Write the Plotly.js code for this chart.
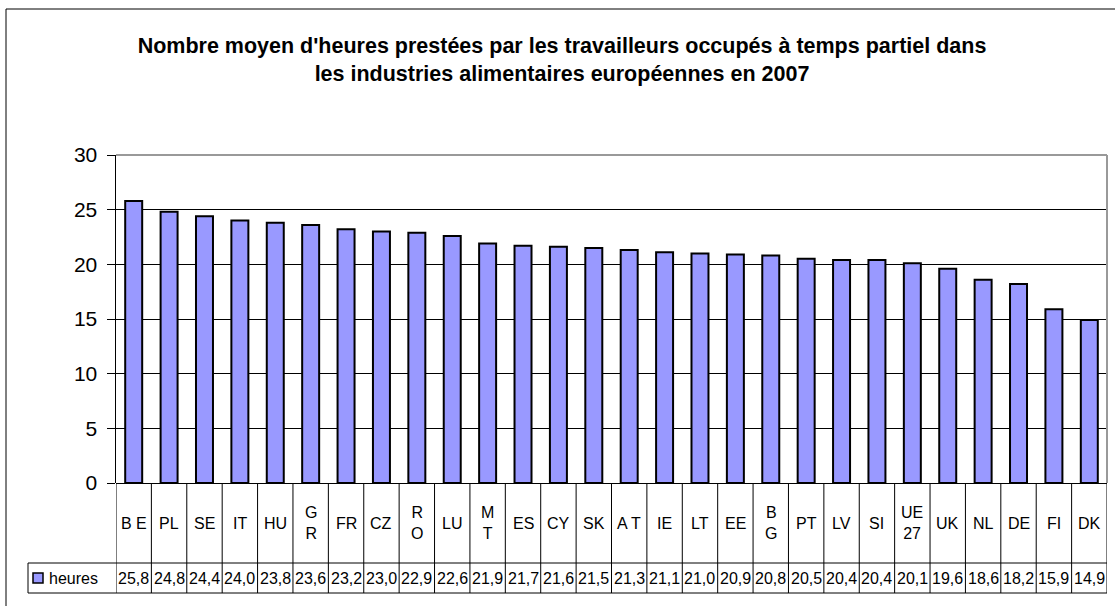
<!DOCTYPE html>
<html>
<head>
<meta charset="utf-8">
<script src="https://cdn.plot.ly/plotly-3.0.1.min.js"></script>
<style>
  html, body { margin: 0; padding: 0; background: #fff; }
  #chart { width: 1115px; height: 606px; }
</style>
</head>
<body>
<div id="chart"></div>
<script>
// ---- data ----
const categories = ['BE','PL','SE','IT','HU','GR','FR','CZ','RO','LU','MT','ES','CY','SK','AT','IE','LT','EE','BG','PT','LV','SI','UE27','UK','NL','DE','FI','DK'];
const tickLabels = ['B E','PL','SE','IT','HU','G<br>R','FR','CZ','R<br>O','LU','M<br>T','ES','CY','SK','A T','IE','LT','EE','B<br>G','PT','LV','SI','UE<br>27','UK','NL','DE','FI','DK'];
const heures = [25.8,24.8,24.4,24.0,23.8,23.6,23.2,23.0,22.9,22.6,21.9,21.7,21.6,21.5,21.3,21.1,21.0,20.9,20.8,20.5,20.4,20.4,20.1,19.6,18.6,18.2,15.9,14.9];
const seriesName = 'heures';
const titleText = "Nombre moyen d'heures prestées par les travailleurs occupés à temps partiel dans<br>les industries alimentaires européennes en 2007";

// ---- layout geometry (pixels) ----
const W = 1115, H = 606;
const L = 116, R = 1107, T = 155, B = 483;
const row1Bottom = 563, row2Bottom = 593, legendLeft = 28;
const pw = R - L, ph = B - T;
const py = p => (B - p) / ph;        // pixel y -> paper y
const px = p => (p - L) / pw;        // pixel x -> paper x

const FONT = 'Liberation Sans, Arial, sans-serif';
const barColor = '#9999FF';

const shapes = [];
const annotations = [];

// outer chart border
shapes.push({type:'rect', xref:'paper', yref:'paper', x0:px(6), x1:px(1117), y0:py(9), y1:py(612),
  line:{color:'#000', width:1}, fillcolor:'rgba(0,0,0,0)', layer:'below'});
// plot area border top & right (gray)
shapes.push({type:'line', xref:'paper', yref:'paper', x0:0, x1:1, y0:1, y1:1, line:{color:'#999', width:2}});
shapes.push({type:'line', xref:'paper', yref:'paper', x0:1, x1:1, y0:0, y1:1, line:{color:'#999', width:2}});

// data table vertical lines at category boundaries
for (let i = 0; i <= categories.length; i++) {
  shapes.push({type:'line', xref:'x', yref:'paper', x0:i-0.5, x1:i-0.5, y0:py(B), y1:py(row2Bottom),
    line:{color:'#000', width:1}});
}
// horizontal table lines
shapes.push({type:'line', xref:'paper', yref:'paper', x0:px(legendLeft), x1:1, y0:py(row1Bottom), y1:py(row1Bottom), line:{color:'#000', width:1}});
shapes.push({type:'line', xref:'paper', yref:'paper', x0:px(legendLeft), x1:1, y0:py(row2Bottom), y1:py(row2Bottom), line:{color:'#000', width:1}});
shapes.push({type:'line', xref:'paper', yref:'paper', x0:px(legendLeft), x1:px(legendLeft), y0:py(row1Bottom), y1:py(row2Bottom), line:{color:'#000', width:1}});
// legend key
shapes.push({type:'rect', xref:'paper', yref:'paper', x0:px(33), x1:px(43), y0:py(583), y1:py(573),
  line:{color:'#000', width:1.5}, fillcolor:barColor});
annotations.push({xref:'paper', yref:'paper', x:px(47), y:py(578), xanchor:'left', yanchor:'middle',
  text:seriesName, showarrow:false, font:{family:FONT, size:16, color:'#000'}});

// category labels and values
categories.forEach((c, i) => {
  annotations.push({xref:'x', yref:'paper', x:c, y:py((B+row1Bottom)/2), xanchor:'center', yanchor:'middle',
    text:tickLabels[i], showarrow:false, font:{family:FONT, size:16, color:'#000'}});
  annotations.push({xref:'x', yref:'paper', x:c, y:py((row1Bottom+row2Bottom)/2), xanchor:'center', yanchor:'middle',
    text:heures[i].toFixed(1).replace('.', ','), showarrow:false, font:{family:FONT, size:16, color:'#000'}});
});

const trace = {
  type:'bar', x:categories, y:heures, name:seriesName,
  marker:{color:barColor, line:{color:'#000', width:2}},
  hoverinfo:'skip'
};

const layout = {
  width:W, height:H,
  margin:{l:L, r:W-R, t:T, b:H-B, pad:0},
  paper_bgcolor:'#fff', plot_bgcolor:'#fff',
  showlegend:false,
  bargap:0.52,
  title:{text:titleText, font:{family:FONT, size:21.5, color:'#000', weight:'bold'},
    xref:'container', yref:'container', x:562/W, xanchor:'center', y:1-53/H, yanchor:'top'},
  xaxis:{type:'category', showticklabels:false, ticks:'', showgrid:false, zeroline:false,
    showline:false, range:[-0.5, categories.length-0.5], fixedrange:true},
  yaxis:{range:[0,30], dtick:5, tick0:0, showgrid:true, gridcolor:'#000', gridwidth:1,
    zeroline:true, zerolinecolor:'#000', zerolinewidth:1,
    showline:true, linecolor:'#000', linewidth:1.5, ticks:'outside', ticklen:8, tickcolor:'#000', tickwidth:1,
    tickfont:{family:FONT, size:21, color:'#000'}, ticklabelstandoff:5, fixedrange:true},
  shapes:shapes, annotations:annotations
};

Plotly.newPlot('chart', [trace], layout, {displayModeBar:false, staticPlot:true});
</script>
</body>
</html>
